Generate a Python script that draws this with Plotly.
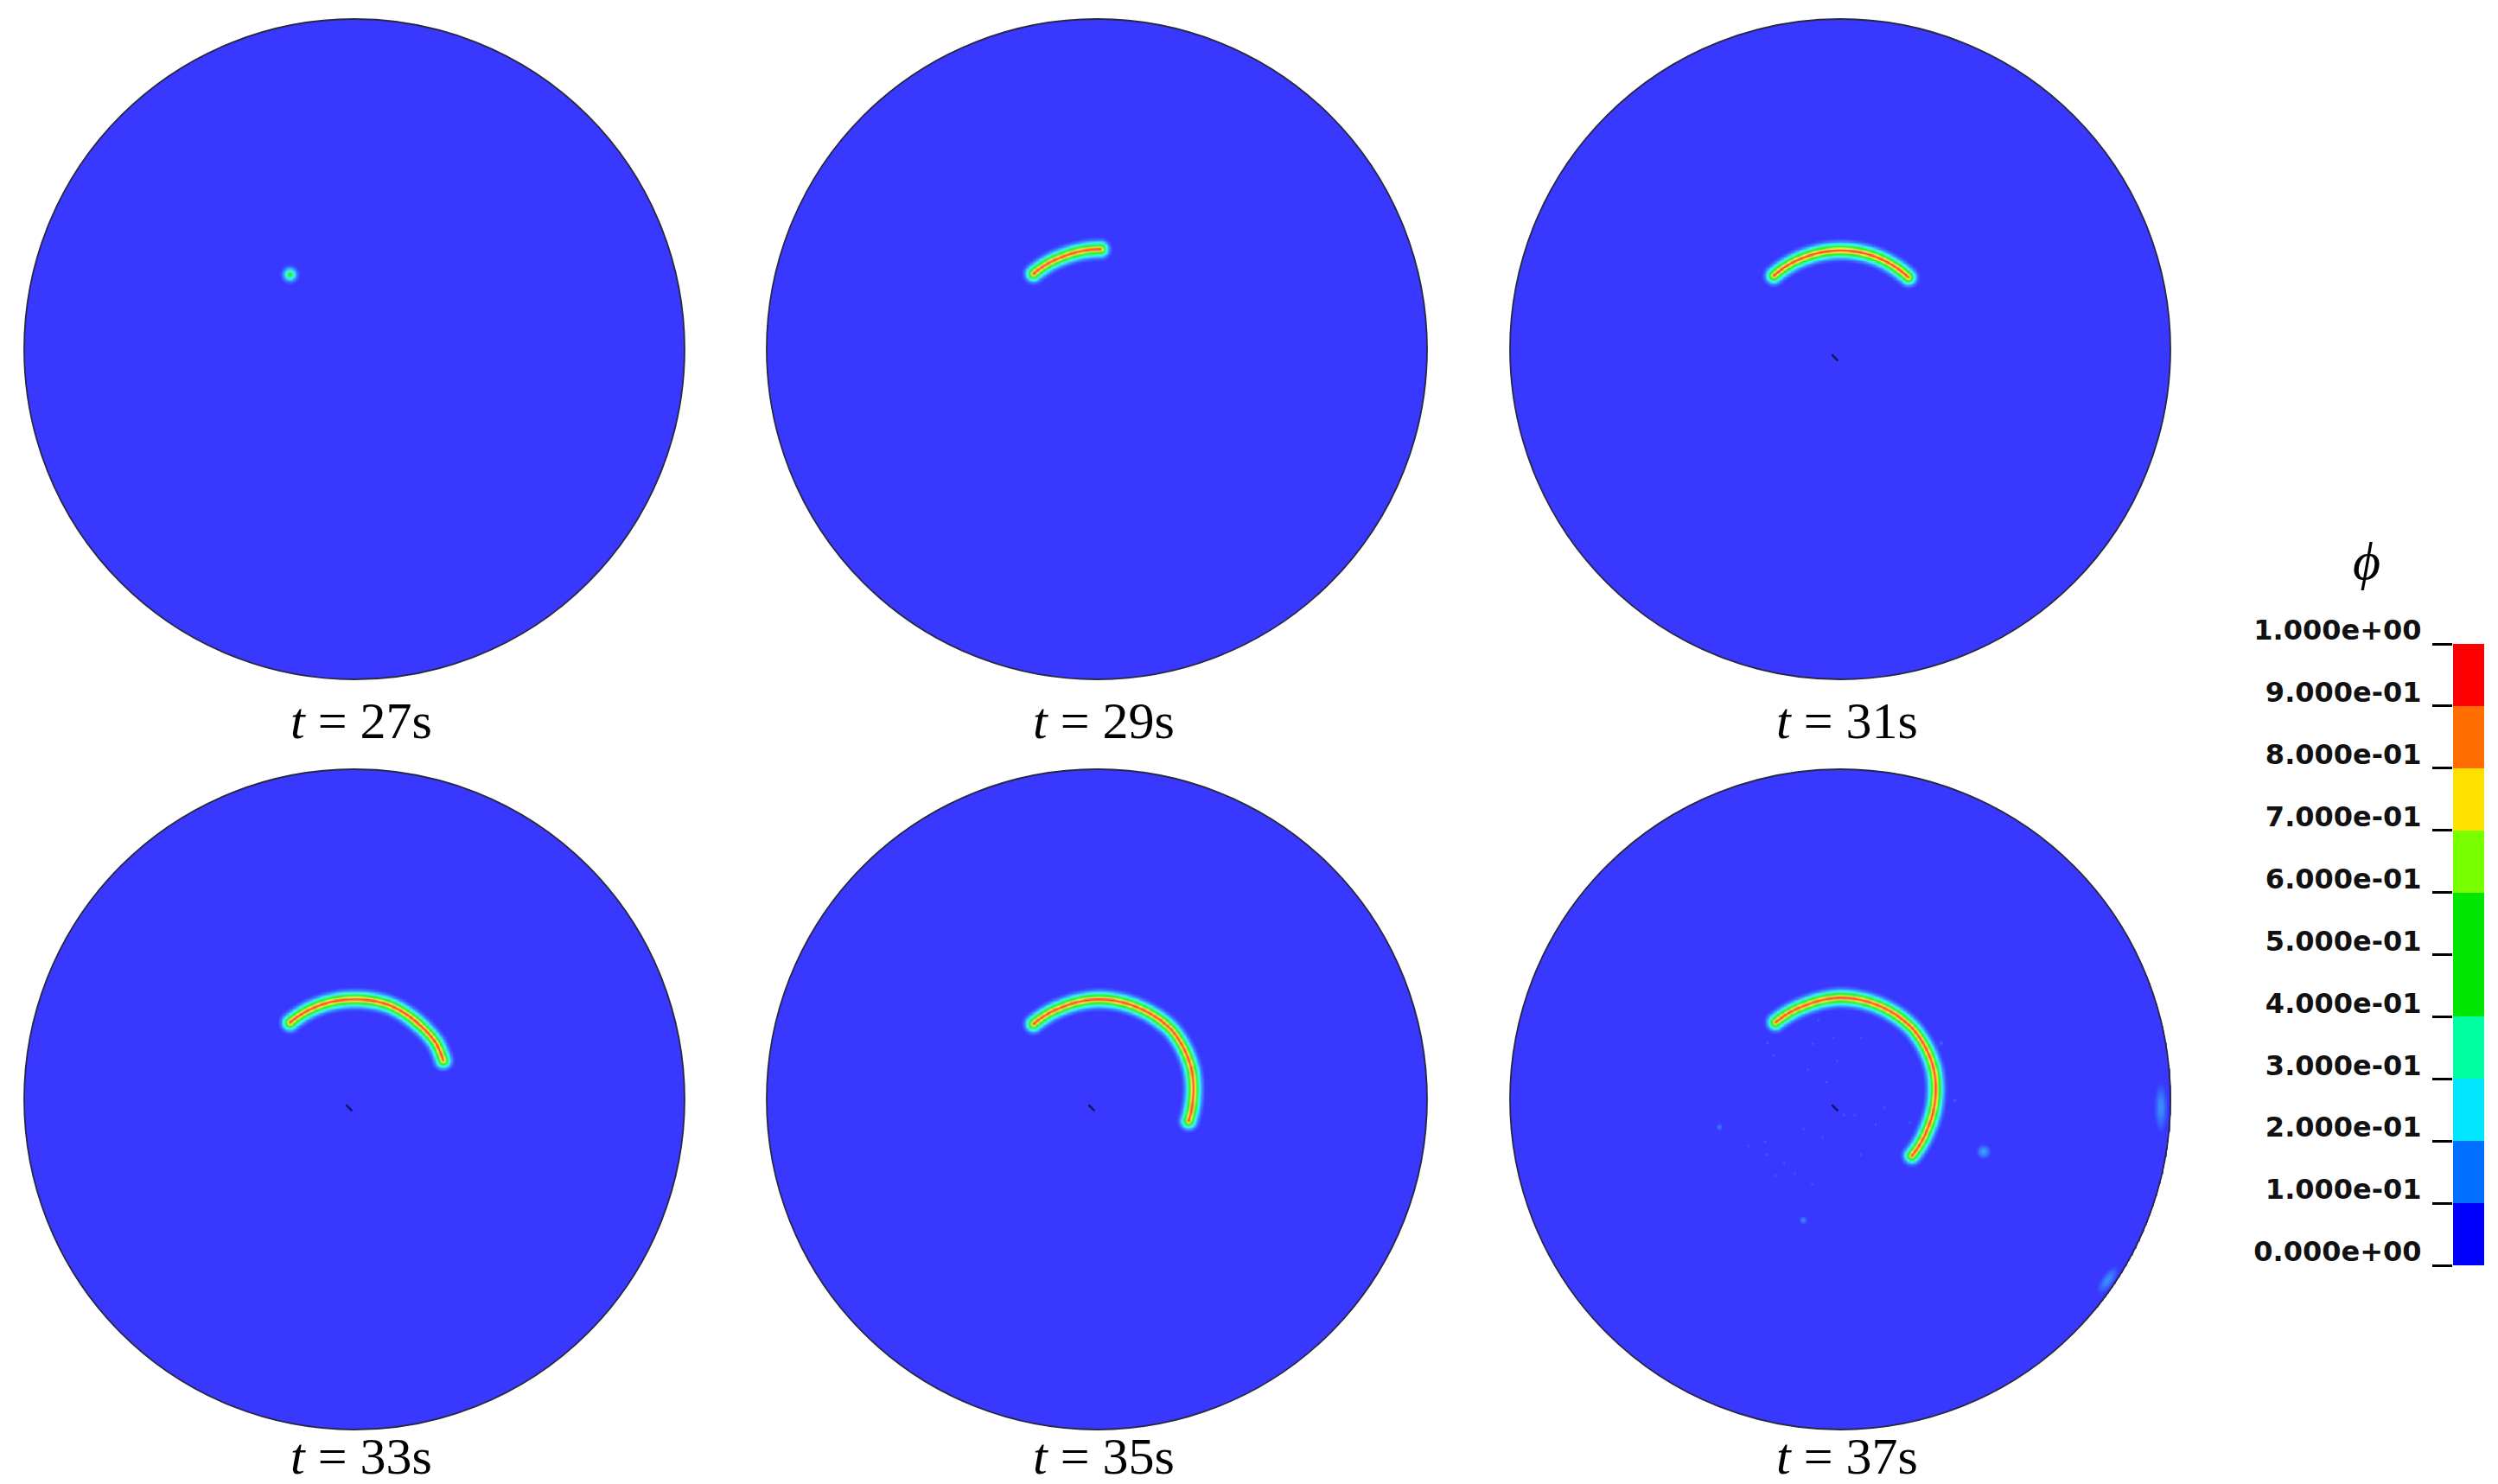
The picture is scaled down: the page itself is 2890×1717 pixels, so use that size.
import numpy as np
import plotly.graph_objects as go

W, H = 2890, 1717

# ---------------- data ----------------
time_labels = ["27s", "29s", "31s", "33s", "35s", "37s"]

# crack path of each snapshot, polar coordinates (deg, radius as fraction of disk radius)
crack_angle = [
    [130.8],
    [130, 110, 88],
    [132, 110, 90, 70, 47],
    [130, 110, 90, 70, 50, 35, 24],
    [130, 110, 90, 65, 43, 18, 3, -13],
    [130, 110, 90, 65, 45, 18, 3, -19, -38],
]
crack_radius = [
    [0.30],
    [0.30, 0.30, 0.304],
    [0.302, 0.30, 0.30, 0.30, 0.30],
    [0.305, 0.305, 0.304, 0.305, 0.30, 0.30, 0.293],
    [0.30, 0.30, 0.304, 0.305, 0.309, 0.30, 0.291, 0.284],
    [0.307, 0.305, 0.309, 0.307, 0.307, 0.297, 0.288, 0.277, 0.274],
]
crack_peak = [0.55, 0.95, 0.95, 0.95, 0.95, 0.95]

# damaged spots at t = 37s (x, y, amplitude, sizes, rotation deg)
spot_x = [0.433, -0.367, 0.345, 0.306, -0.113, 0.970, 0.809]
spot_y = [-0.157, -0.082, -0.002, 0.172, -0.365, -0.024, -0.546]
spot_amp = [0.17, 0.13, 0.10, 0.10, 0.14, 0.15, 0.15]
spot_sx = [0.022, 0.011, 0.008, 0.008, 0.013, 0.020, 0.050]
spot_sy = [0.022, 0.011, 0.008, 0.008, 0.013, 0.075, 0.020]
spot_rot = [0, 0, 0, 0, 0, 0, 56]

# faint specks at t = 37s
speck_x = [-0.223, -0.203, -0.023, -0.085, -0.010, 0.061, -0.100, -0.042, 0.042, 0.010,
           0.106, 0.209, -0.229, -0.280, -0.223, -0.171, -0.197, -0.139, -0.087, -0.113,
           -0.055, 0.061, 0.132, -0.068]
speck_y = [0.173, 0.134, 0.189, 0.170, 0.118, 0.189, 0.092, 0.054, -0.047, -0.047,
           -0.075, -0.069, -0.127, -0.140, -0.166, -0.191, -0.230, -0.224, -0.256, -0.088,
           -0.114, -0.166, -0.024, 0.241]
speck_amp = 0.11

# small dark mark near disk centre
center_mark_x = -0.016
center_mark_y = -0.026
center_mark_on = [False, False, True, True, True, True]

# colour-bar
cbar_levels = [0.0, 0.1, 0.2, 0.3, 0.4, 0.5, 0.6, 0.7, 0.8, 0.9, 1.0]
cbar_ticktext = ["0.000e+00", "1.000e-01", "2.000e-01", "3.000e-01", "4.000e-01", "5.000e-01",
                 "6.000e-01", "7.000e-01", "8.000e-01", "9.000e-01", "1.000e+00"]
band_colors = [(0, 0, 255), (0, 110, 255), (0, 230, 255), (0, 255, 160), (0, 230, 0),
               (0, 230, 0), (120, 255, 0), (255, 225, 0), (255, 110, 0), (255, 0, 0)]

# ---------------- layout geometry ----------------
R_PX = 382
AX = 1.02
col_cx = [402, 1261, 2121]
row_cy = [396, 1264]


def lighten(c, a=0.22):
    return "rgb(%d,%d,%d)" % tuple(round(v + (255 - v) * a) for v in c)


field_cs = [[0.0, lighten(band_colors[0])]]
for i, c in enumerate(band_colors):
    field_cs.append([0.05 + 0.1 * i, lighten(c)])
field_cs.append([1.0, lighten(band_colors[-1])])
disk_color = lighten(band_colors[0])

LAM = 0.0165
P = 1.3
STEP = 0.0035


def dist_to_polyline(X, Y, px, py):
    if len(px) == 1:
        return np.hypot(X - px[0], Y - py[0])
    d = np.full(X.shape, np.inf)
    for i in range(len(px) - 1):
        ax, ay, bx, by = px[i], py[i], px[i + 1], py[i + 1]
        vx, vy = bx - ax, by - ay
        L2 = vx * vx + vy * vy
        t = np.clip(((X - ax) * vx + (Y - ay) * vy) / L2, 0, 1)
        d = np.minimum(d, np.hypot(X - ax - t * vx, Y - ay - t * vy))
    return d


fig = go.Figure()
shapes = []
annotations = []

for k in range(6):
    r_i, c_i = divmod(k, 3)
    cx, cy = col_cx[c_i], row_cy[r_i]
    ax_id = "" if k == 0 else str(k + 1)
    xa, ya = "x" + ax_id, "y" + ax_id

    # dense polyline of the crack path
    ang = np.array(crack_angle[k], float)
    rad = np.array(crack_radius[k], float)
    if len(ang) > 1:
        pa, pr = [], []
        for i in range(len(ang) - 1):
            n = max(2, int(abs(ang[i + 1] - ang[i])) + 1)
            tt = np.linspace(0, 1, n, endpoint=False)
            pa.extend(ang[i] + (ang[i + 1] - ang[i]) * tt)
            pr.extend(rad[i] + (rad[i + 1] - rad[i]) * tt)
        pa.append(ang[-1]); pr.append(rad[-1])
        pa, pr = np.array(pa), np.array(pr)
    else:
        pa, pr = ang, rad
    px = pr * np.cos(np.radians(pa))
    py = pr * np.sin(np.radians(pa))

    bx = list(px); by = list(py)
    if k == 5:
        bx += spot_x + speck_x
        by += spot_y + speck_y
    pad = 0.09
    x0, x1 = max(-1.0, min(bx) - pad), min(1.0, max(bx) + pad)
    y0, y1 = max(-1.0, min(by) - pad), min(1.0, max(by) + pad)
    xs = np.arange(x0, x1 + STEP / 2, STEP)
    ys = np.arange(y0, y1 + STEP / 2, STEP)
    X, Y = np.meshgrid(xs, ys)

    d = dist_to_polyline(X, Y, px, py)
    Z = crack_peak[k] * np.exp(-(d / LAM) ** P)
    if k == 5:
        for sx0, sy0, amp, sx, sy, rot in zip(spot_x, spot_y, spot_amp, spot_sx, spot_sy, spot_rot):
            th = np.radians(rot)
            u = (X - sx0) * np.cos(th) + (Y - sy0) * np.sin(th)
            v = -(X - sx0) * np.sin(th) + (Y - sy0) * np.cos(th)
            Z = Z + amp * np.exp(-(u / sx) ** 2 - (v / sy) ** 2)
        for sx0, sy0 in zip(speck_x, speck_y):
            Z = Z + speck_amp * np.exp(-((X - sx0) ** 2 + (Y - sy0) ** 2) / 0.0055 ** 2)
    Z = np.clip(Z, 0, 1)
    Z[X ** 2 + Y ** 2 > 1.0] = np.nan
    Z = np.round(Z, 3).astype(np.float32)

    fig.add_trace(go.Heatmap(x=xs, y=ys, z=Z, colorscale=field_cs, zmin=0, zmax=1,
                             zsmooth="best", showscale=False, hoverinfo="skip",
                             xaxis=xa, yaxis=ya))
    if center_mark_on[k]:
        fig.add_trace(go.Scatter(x=[center_mark_x], y=[center_mark_y], mode="markers",
                                 marker=dict(symbol="line-nw", size=7,
                                             line=dict(width=2.5, color="rgb(20,20,100)")),
                                 hoverinfo="skip", showlegend=False, xaxis=xa, yaxis=ya))

    hw = R_PX * AX
    dom_x = [(cx - hw) / W, (cx + hw) / W]
    dom_y = [1 - (cy + hw) / H, 1 - (cy - hw) / H]
    fig.update_layout(**{
        "xaxis" + ax_id: dict(domain=dom_x, range=[-AX, AX], visible=False, fixedrange=True,
                              anchor=ya, automargin=False),
        "yaxis" + ax_id: dict(domain=dom_y, range=[-AX, AX], visible=False, fixedrange=True,
                              anchor=xa, automargin=False),
    })
    shapes.append(dict(type="circle", xref=xa, yref=ya, x0=-1, y0=-1, x1=1, y1=1,
                       fillcolor=disk_color, line=dict(width=0), layer="below"))
    shapes.append(dict(type="circle", xref=xa, yref=ya, x0=-1, y0=-1, x1=1, y1=1,
                       fillcolor="rgba(0,0,0,0)", line=dict(width=1.8, color="rgb(40,40,70)"),
                       layer="above"))
    lab_y = 1 - (826 if r_i == 0 else 1677) / H
    annotations.append(dict(xref="paper", yref="paper", x=(cx + 8) / W, y=lab_y,
                            text="<i>t</i> = " + time_labels[k], showarrow=False,
                            xanchor="center", yanchor="middle",
                            font=dict(family="Liberation Serif", size=60, color="black")))

# ---------------- colour bar ----------------
cb_cs = [[i / 9, "rgb(%d,%d,%d)" % c] for i, c in enumerate(band_colors)]
fig.add_trace(go.Heatmap(x=[0], y=[0.05 + 0.1 * i for i in range(10)],
                         z=[[i] for i in range(10)], colorscale=cb_cs, zmin=0, zmax=9,
                         showscale=False, hoverinfo="skip", xaxis="x7", yaxis="y7"))
fig.update_layout(
    xaxis7=dict(domain=[2830 / W, 2866 / W], range=[-0.5, 0.5], visible=False, fixedrange=True,
                anchor="y7", automargin=False),
    yaxis7=dict(domain=[1 - 1456 / H, 1 - 737 / H], range=[0, 1], fixedrange=True,
                anchor="x7", automargin=False,
                tickmode="array", tickvals=cbar_levels, ticktext=cbar_ticktext,
                ticks="outside", ticklen=23, tickwidth=2.5, tickcolor="black",
                showline=False, showgrid=False, zeroline=False, side="left",
                ticklabelshift=-16, ticklabelstandoff=6,
                tickfont=dict(family="DejaVu Sans", size=32, color="#111111", weight="bold")),
)
annotations.append(dict(xref="paper", yref="paper", x=2730 / W, y=1 - 641 / H,
                        text="<i>ϕ</i>", showarrow=False, xanchor="center", yanchor="middle",
                        font=dict(family="Liberation Serif", size=62, color="black")))

fig.update_layout(width=W, height=H, margin=dict(l=0, r=0, t=0, b=0, autoexpand=False),
                  paper_bgcolor="white", plot_bgcolor="white", showlegend=False,
                  shapes=shapes, annotations=annotations)
fig.write_html("out.html")
